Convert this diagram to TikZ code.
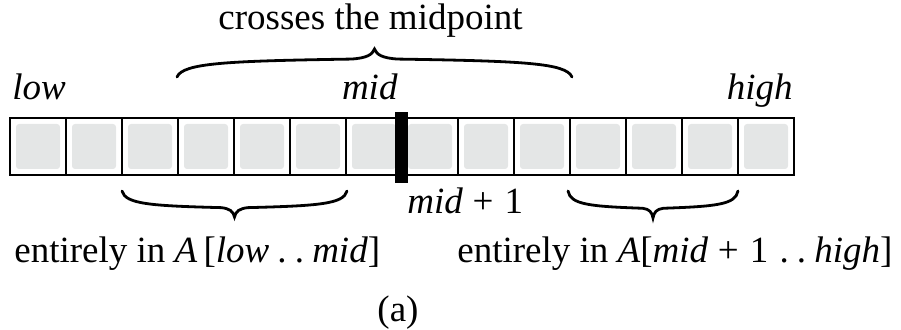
\documentclass[tikz,border=0pt]{standalone}
\usepackage{fontspec}
\setmainfont{Liberation Serif}
\definecolor{cellgray}{HTML}{E4E6E6}
\tikzset{
 txt/.style={font=\fontsize{18.5pt}{22pt}\selectfont, inner sep=0pt},
 cell/.style={draw, line width=1pt, minimum width=28pt, minimum height=28.5pt, inner sep=0pt,
   path picture={\fill[cellgray, rounded corners=1.5pt] ([shift={(3pt,3pt)}]path picture bounding box.south west) rectangle ([shift={(-3pt,-3pt)}]path picture bounding box.north east);}},
 bracestyle/.style={line width=1.4pt, line cap=round},
 barstyle/.style={fill=black, minimum width=6.5pt, minimum height=35.5pt, inner sep=0pt}
}
\newcommand\dsp{\hspace{0.22em}}
\newcommand\curlybrace[4]{%
 \pgfmathsetmacro\cbm{(#1+#2)/2}%
 \pgfmathsetmacro\cbw{(#2-#1)/2}%
 \draw[bracestyle] (#1,#3)
   .. controls ({#1+0.03*\cbw},{#3+0.5*(#4)}) and ({#1+0.25*\cbw},{#3+0.57*(#4)}) .. ({\cbm-0.12*\cbw},{#3+0.64*(#4)})
   .. controls ({\cbm-0.04*\cbw},{#3+0.67*(#4)}) and ({\cbm-0.01*\cbw},{#3+0.8*(#4)}) .. (\cbm,{#3+(#4)})
   .. controls ({\cbm+0.01*\cbw},{#3+0.8*(#4)}) and ({\cbm+0.04*\cbw},{#3+0.67*(#4)}) .. ({\cbm+0.12*\cbw},{#3+0.64*(#4)})
   .. controls ({#2-0.25*\cbw},{#3+0.57*(#4)}) and ({#2-0.03*\cbw},{#3+0.5*(#4)}) .. (#2,#3);}
\begin{document}
\begin{tikzpicture}[x=0.5pt,y=-0.5pt]
\useasboundingbox (0,0) rectangle (901,330);
% cells
\foreach \i in {1,...,14} {
  \node[cell] (c\i) at ({56*\i-18},146.5) {};
}
\node[barstyle] (bar) at (401.5,147.5) {};
% labels
\node[txt, anchor=base] (cross) at (370.5,30) {crosses the midpoint};
\node[txt, anchor=base west] (low) at (12,100) {\textit{low}};
\node[txt, anchor=base east] (mid) at (398,100) {\textit{mid}};
\node[txt, anchor=base east] (high) at (793,100) {\textit{high}};
\node[txt, anchor=base west] (midp) at (407,214) {\textit{mid}\hspace{0.26em}+\hspace{0.3em}1};
\node[txt, anchor=base west] (lefttxt) at (14,263) {entirely in \textit{A}\,[\textit{low}\dsp.\dsp.\dsp\textit{mid}]};
\node[txt, anchor=base west] (righttxt) at (457,263) {entirely in \textit{A}[\textit{mid}\hspace{0.26em}+\hspace{0.3em}1\hspace{0.3em}.\dsp.\dsp\textit{high}]};
\node[txt, anchor=base] (cap) at (398,322) {(a)};
% braces
\curlybrace{177}{572}{77}{-28}
\curlybrace{122}{347}{191}{26}
\curlybrace{568}{738}{191}{27}
\end{tikzpicture}
\end{document}
